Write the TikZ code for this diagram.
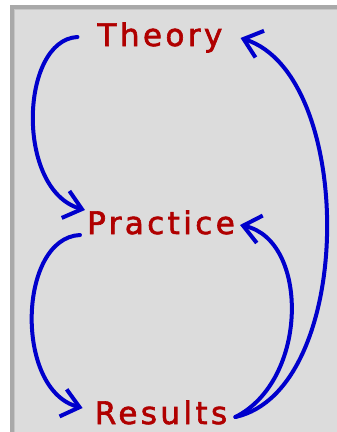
\documentclass[tikz,border=0pt]{standalone}
\usepackage{fontspec}
\usetikzlibrary{arrows.meta,calc}
\newfontfamily\lblfont{DejaVu Sans}[LetterSpace=11,FakeBold=2]
\definecolor{txtred}{HTML}{B00000}
\definecolor{arrblue}{HTML}{0000CC}
\definecolor{bgfill}{HTML}{DCDCDC}
\definecolor{bordergray}{HTML}{A9A9A9}
\definecolor{borderlight}{HTML}{C6C6C6}
\tikzset{
  lbl/.style={text=txtred, font=\lblfont\fontsize{31}{31}\selectfont, inner sep=0pt, anchor=base},
  conn/.style={draw=arrblue, line width=4pt, line cap=round, line join=round,
    -{Straight Barb[length=17pt,width=28pt,line width=4pt]}}
}
\begin{document}
\begin{tikzpicture}[x=1pt,y=-1pt]
\useasboundingbox (0,0) rectangle (337,432);
\fill[white] (0,0) rectangle (337,432);
\fill[bordergray] (10,5) rectangle (337,432);
\fill[borderlight] (14,9) rectangle (337,432);
\fill[bgfill] (15,10) rectangle (337,432);
\node[lbl] (T) at (160,46) {Theory};
\node[lbl] (P) at (161,234) {Practice};
\node[lbl] (R) at (161,424) {Results};
\draw[conn] ([shift={(-20,-9)}]T.base west) .. controls (20,40) and (15,190) .. ([shift={(-2,-24)}]P.base west);
\draw[conn] ([shift={(-7,1)}]P.base west) .. controls (18,238) and (14,390) .. ([shift={(-12,-16)}]R.base west);
\draw[conn] ([shift={(8,-7)}]R.base east) .. controls (356,390) and (356,75) .. ([shift={(18,-8)}]T.base east);
\draw[conn] ([shift={(8,-7)}]R.base east) .. controls (309,380) and (309,240) .. ([shift={(5,-9)}]P.base east);
\end{tikzpicture}
\end{document}
